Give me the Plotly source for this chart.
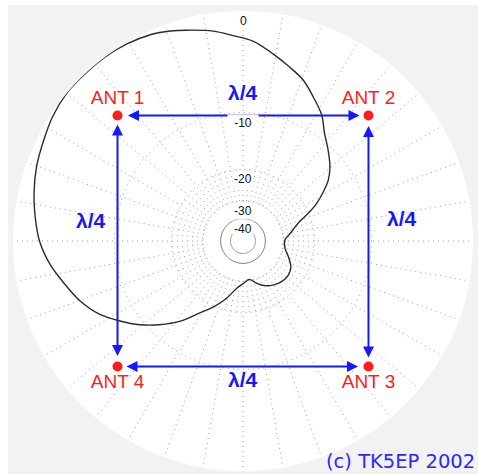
import numpy as np
import plotly.graph_objects as go

# ---- data (azimuth clockwise from north, gain in dB) ----
azimuth_deg = [345, 352, 357, 3, 9, 15, 20.5, 26, 32, 37, 43, 49.5, 54.5, 58.5, 63, 67, 72,
               81, 88.5, 100, 109, 118, 127, 136, 145, 154, 162, 171, 179.5, 187.5, 196, 204,
               211, 218, 225, 231, 237, 243, 250, 257, 263, 270, 277, 283, 290, 297, 303, 310,
               316, 323, 329.5, 336, 341]
gain_db = [-0.9, -1.4, -1.9, -2.4, -3.3, -4.2, -5.0, -6.2, -7.5, -9.1, -10.5, -12.0, -13.5,
           -15.3, -17.6, -20.2, -23.6, -27.0, -29.2, -28.9, -26.9, -24.8, -24.0, -24.2, -25.0,
           -26.3, -28.2, -30.5, -29.0, -27.0, -23.2, -19.9, -17.3, -14.0, -11.4, -9.4, -7.7,
           -6.1, -4.8, -3.8, -2.9, -2.1, -1.6, -1.2, -0.8, -0.5, -0.2, 0.0, 0.0, 0.0, -0.1,
           -0.3, -0.6]

grid_ring_db = [-20, -10, 0]          # dotted rings
inner_ring_db = [-40, -50]            # solid rings
disc_ring_db = -30                    # white disc boundary
radial_label_db = [0, -10, -20, -30, -40]
radial_labels = ["0", "-10", "-20", "-30", "-40"]

ant_names = ["ANT 1", "ANT 2", "ANT 3", "ANT 4"]
ant_x_lambda = [-0.125, 0.125, 0.125, -0.125]
ant_y_lambda = [0.125, 0.125, -0.125, -0.125]
spacing_label = "λ/4"
credit = "(c) TK5EP 2002"


def arrl(db):
    """ARRL log-periodic radial scale (0.89 per 2 dB)."""
    return 0.89 ** (-np.asarray(db, dtype=float) / 2.0)


LAMBDA_TO_PLOT = 4.365
GRID = "#9c9c9c"
DOT = "1px,4px"
BLUE = "#1616ff"
RED = "#ff1c1c"

fig = go.Figure()

# invisible cartesian trace so annotation axes exist
ax_ = np.array(ant_x_lambda) * LAMBDA_TO_PLOT
ay_ = np.array(ant_y_lambda) * LAMBDA_TO_PLOT
fig.add_trace(go.Scatter(x=ax_, y=ay_, mode="markers", marker=dict(opacity=0),
                         hoverinfo="skip", showlegend=False))

# white disc inside -30 dB ring
circ = np.arange(0, 361, 2)
fig.add_trace(go.Scatterpolar(r=np.full(circ.size, arrl(disc_ring_db)), theta=circ,
                              mode="lines", fill="toself", fillcolor="white",
                              line=dict(color=GRID, width=1, dash=DOT),
                              hoverinfo="skip", showlegend=False))

# extra radial dotted lines between -30 and -20
extra_r, extra_t = [], []
for a in range(5, 360, 10):
    extra_r += [float(arrl(-30)), float(arrl(-20)), None]
    extra_t += [a, a, None]
fig.add_trace(go.Scatterpolar(r=extra_r, theta=extra_t, mode="lines",
                              line=dict(color=GRID, width=1, dash=DOT),
                              connectgaps=False, hoverinfo="skip", showlegend=False))

# solid inner rings
for db, col in zip(inner_ring_db, ["#6e6e6e", "#8a8a8a"]):
    fig.add_trace(go.Scatterpolar(r=np.full(circ.size, arrl(db)), theta=circ, mode="lines",
                                  line=dict(color=col, width=1), hoverinfo="skip",
                                  showlegend=False))

# radiation pattern
pat_t = azimuth_deg + azimuth_deg[:1]
pat_r = list(arrl(gain_db)) + [float(arrl(gain_db[0]))]
fig.add_trace(go.Scatterpolar(r=pat_r, theta=pat_t, mode="lines",
                              line=dict(color="#2a2a2a", width=1.4, shape="spline",
                                        smoothing=0.9),
                              hoverinfo="skip", showlegend=False))

# antennas
ant_r = np.hypot(ax_, ay_)
ant_t = np.degrees(np.arctan2(ax_, ay_)) % 360
fig.add_trace(go.Scatterpolar(r=ant_r, theta=ant_t, mode="markers+text", text=ant_names,
                              textposition=["top center", "top center",
                                            "bottom center", "bottom center"],
                              textfont=dict(family="Liberation Sans, Arial", size=19,
                                            color=RED),
                              marker=dict(size=10, color=RED),
                              hoverinfo="skip", showlegend=False))

annotations = []
# double-headed arrows between neighbouring antennas
pairs = [(0, 1), (1, 2), (2, 3), (3, 0)]
for a, b in pairs:
    annotations.append(dict(x=ax_[b], y=ay_[b], ax=ax_[a], ay=ay_[a], xref="x", yref="y",
                            axref="x", ayref="y", text="", showarrow=True,
                            arrowside="end+start", arrowhead=2, startarrowhead=2,
                            arrowsize=1.1, startarrowsize=1.1, arrowwidth=2,
                            arrowcolor=BLUE, standoff=9, startstandoff=9))

# λ/4 labels
label_shift = {(0, 1): (0, 23), (1, 2): (34, 23), (2, 3): (0, -13), (3, 0): (-27, 21)}
for a, b in pairs:
    sx, sy = label_shift[(a, b)]
    annotations.append(dict(x=(ax_[a] + ax_[b]) / 2, y=(ay_[a] + ay_[b]) / 2, xref="x",
                            yref="y", text=spacing_label, showarrow=False, xshift=sx,
                            yshift=sy,
                            font=dict(family="Liberation Sans, Arial", size=21, color=BLUE,
                                      weight="bold")))

# dB ring labels
for db, lab in zip(radial_label_db, radial_labels):
    annotations.append(dict(x=0, y=float(arrl(db)), xref="x", yref="y", text=lab,
                            showarrow=False, yanchor="top", yshift=-1,
                            bgcolor="white" if db == -10 else "rgba(255,255,255,0.85)",
                            width=28 if db == -10 else None, borderpad=1,
                            font=dict(family="Liberation Sans, Arial", size=12,
                                      color="#111111")))

annotations.append(dict(x=1, y=0.02, xref="paper", yref="paper", text=credit,
                        showarrow=False, xanchor="right", yanchor="middle", xshift=4,
                        font=dict(family="DejaVu Sans, Verdana", size=19.5,
                                  color="#2a2aff")))

fig.update_layout(
    width=470, height=469,
    margin=dict(l=5, r=5, t=6, b=3),
    paper_bgcolor="#f2f2f2", plot_bgcolor="rgba(0,0,0,0)",
    showlegend=False, hovermode=False,
    xaxis=dict(range=[-1, 1], domain=[0, 1], visible=False, fixedrange=True),
    yaxis=dict(range=[-1, 1], domain=[0, 1], visible=False, fixedrange=True),
    polar=dict(
        domain=dict(x=[0, 1], y=[0, 1]),
        bgcolor="white",
        angularaxis=dict(rotation=90, direction="clockwise", dtick=10, showticklabels=False,
                         ticks="", showline=False, gridcolor=GRID, griddash=DOT),
        radialaxis=dict(range=[0, 1], tickvals=list(arrl(grid_ring_db[:-1])) + [0.998],
                        showticklabels=False, ticks="", showline=False, gridcolor=GRID,
                        griddash=DOT),
    ),
    annotations=annotations,
)

fig.write_html("out.html",
               post_script="document.body.style.margin='5px 0 0 8px';"
                           "document.body.style.overflow='hidden';")
